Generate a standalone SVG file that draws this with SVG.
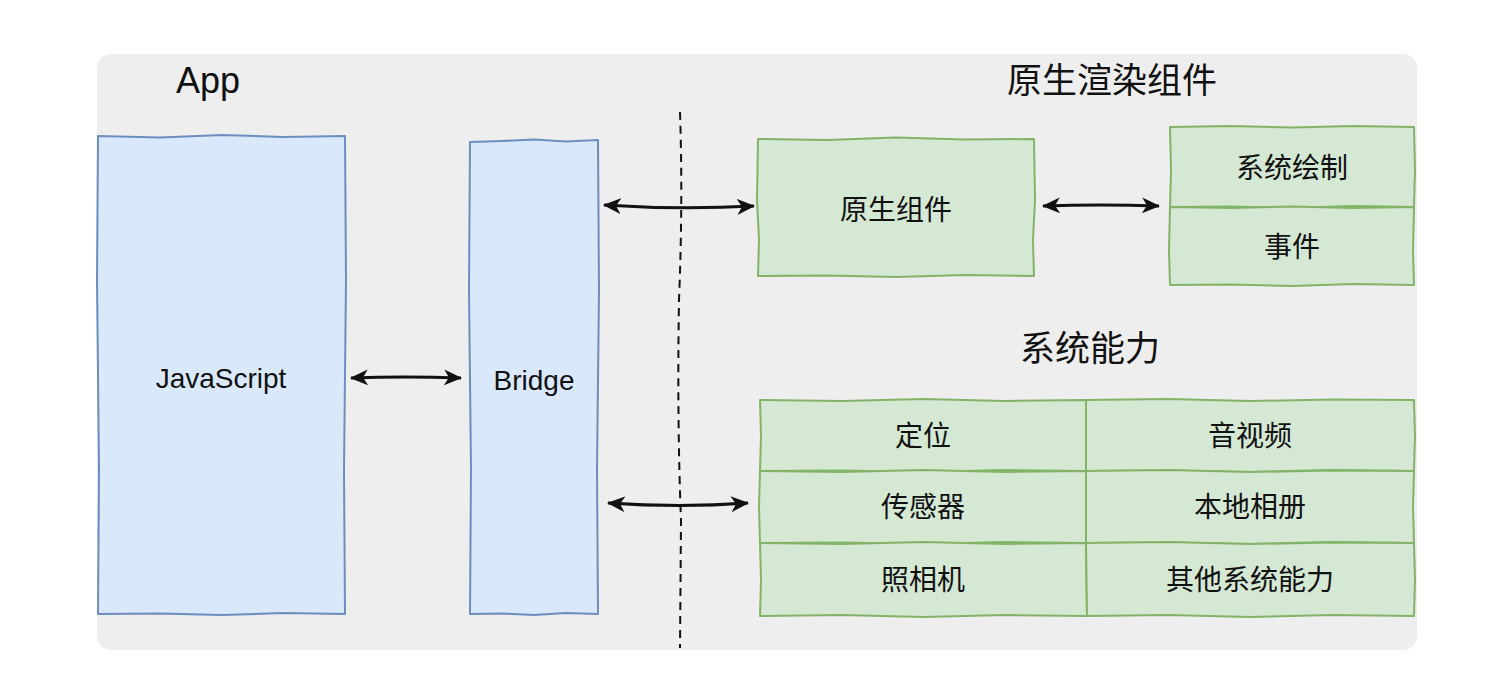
<svg xmlns="http://www.w3.org/2000/svg" width="1502" height="700" viewBox="0 0 1502 700">
<style>
.blue{fill:#dae8fc;stroke:#6c8ebf;stroke-width:2;stroke-linejoin:round}
.green{fill:#d5e8d4;stroke:#82b366;stroke-width:2;stroke-linejoin:round}
.lbl{font-family:"Liberation Sans","Noto Sans CJK SC",sans-serif;font-size:28px;fill:#111;text-anchor:middle}
.title{font-family:"Liberation Sans","Noto Sans CJK SC",sans-serif;font-size:35px;fill:#111;text-anchor:middle}
.conn{fill:none;stroke:#111;stroke-width:3;marker-start:url(#ah);marker-end:url(#ah)}
</style>
<defs>
<marker id="ah" markerUnits="userSpaceOnUse" markerWidth="18" markerHeight="16" viewBox="0 0 18 16" refX="17" refY="8" orient="auto-start-reverse">
<path d="M0,0 L18,8 L0,16 L5,8 Z" fill="#111"/>
</marker>
</defs>
<rect width="1502" height="700" fill="#ffffff"/>
<rect id="panel" x="97" y="54" width="1320" height="596" rx="14" fill="#eeeeee"/>
<text class="title" x="208" y="93" style="font-size:36px">App</text>
<text class="title" x="1112" y="93">原生渲染组件</text>
<text class="title" x="1090" y="361">系统能力</text>

<g id="javascript">
<path class="blue" d="M98,136 L160,137.5 L222,135 L283,137 L345,136 L346,280 L344,470 L345,614 L283,613 L222,615 L160,613.5 L98,614 L99,470 L97,280 Z"/>
<text class="lbl" x="221" y="388">JavaScript</text>
</g>
<g id="bridge">
<path class="blue" d="M470,142 L502,141 L534,139.5 L566,141.5 L598,140 L599,290 L597,470 L598,614 L566,613 L534,615 L502,613.5 L470,614 L471,470 L469,290 Z"/>
<text class="lbl" x="534" y="390">Bridge</text>
</g>
<g id="native-component">
<path class="green" d="M758,139 L827,140 L896,137.5 L965,139.5 L1034,139 L1035,200 L1033,240 L1034,276 L965,275 L896,277 L827,275.5 L758,276 L759,240 L757,200 Z"/>
<text class="lbl" x="896" y="220">原生组件</text>
</g>
<g id="system-draw">
<path class="green" d="M1170,127 L1231,126 L1292,127.5 L1353,126 L1414,127 L1415,170 L1414,207 L1353,206 L1292,208 L1231,206.5 L1170,207 L1171,170 Z"/>
<text class="lbl" x="1292" y="178">系统绘制</text>
</g>
<g id="event">
<path class="green" d="M1170,207 L1231,208 L1292,206.5 L1353,208 L1414,207 L1413,250 L1414,285 L1353,284 L1292,286 L1231,284.5 L1170,285 L1169,250 Z"/>
<text class="lbl" x="1292" y="257">事件</text>
</g>
<g id="location">
<path class="green" d="M760,400 L842,401 L923,399 L1005,401 L1086,400 L1086,471 L1005,470 L923,472 L842,470.5 L760,471 L761,436 Z"/>
<text class="lbl" x="923" y="446">定位</text>
</g>
<g id="av">
<path class="green" d="M1086,400 L1168,399 L1250,401 L1332,399.5 L1414,400 L1415,436 L1414,471 L1332,470 L1250,472 L1168,470.5 L1086,471 Z"/>
<text class="lbl" x="1250" y="446">音视频</text>
</g>
<g id="sensor">
<path class="green" d="M760,471 L842,472 L923,470 L1005,472 L1086,471 L1086,543 L1005,542 L923,544 L842,542.5 L760,543 L759,507 Z"/>
<text class="lbl" x="923" y="517">传感器</text>
</g>
<g id="album">
<path class="green" d="M1086,471 L1168,470 L1250,472 L1332,470.5 L1414,471 L1413,507 L1414,543 L1332,542 L1250,544 L1168,542.5 L1086,543 Z"/>
<text class="lbl" x="1250" y="517">本地相册</text>
</g>
<g id="camera">
<path class="green" d="M760,543 L842,544 L923,542 L1005,544 L1086,543 L1087,616 L1005,615 L923,617 L842,615 L760,616 L761,580 Z"/>
<text class="lbl" x="923" y="590">照相机</text>
</g>
<g id="other">
<path class="green" d="M1086,543 L1168,542 L1250,544 L1332,542.5 L1414,543 L1415,580 L1414,616 L1332,615 L1250,617 L1168,615 L1087,616 Z"/>
<text class="lbl" x="1250" y="590">其他系统能力</text>
</g>

<g id="connectors">
<path d="M680,112 Q683,200 679,300 Q677,420 681,520 L680,648" fill="none" stroke="#111" stroke-width="2" stroke-dasharray="8,6"/>
<path class="conn" d="M351,378 Q405,376 461,378"/>
<path class="conn" d="M604,205 Q680,210 754,206"/>
<path class="conn" d="M1043,206 Q1100,204 1159,206"/>
<path class="conn" d="M608,503 Q680,508 748,503"/>
</g>
</svg>
